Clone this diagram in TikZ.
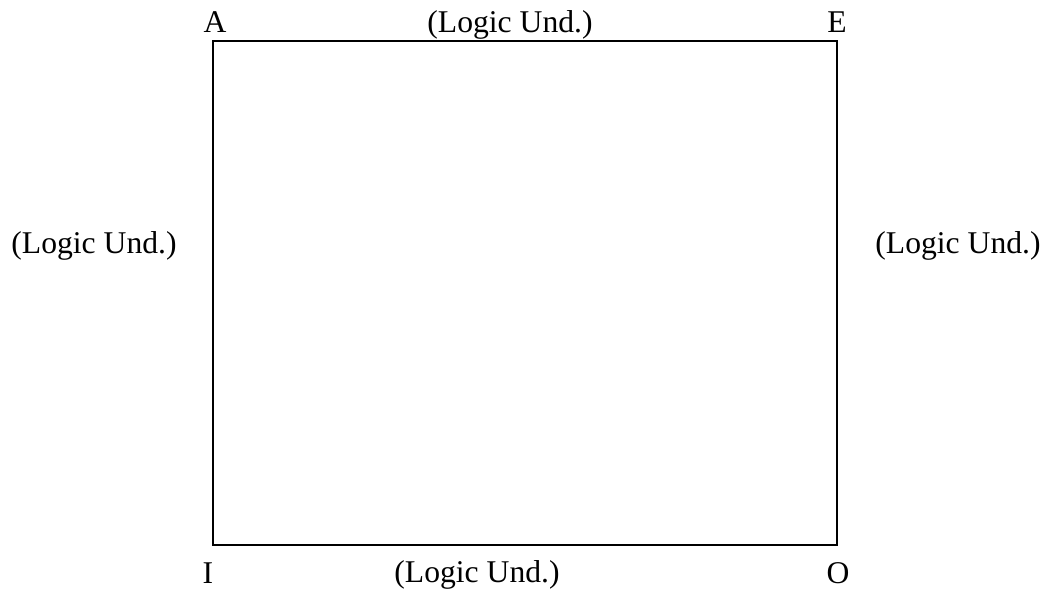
\documentclass[tikz,border=0pt]{standalone}
\usepackage{fontspec}
\setmainfont{Liberation Serif}
\usetikzlibrary{positioning}

\begin{document}
\begin{tikzpicture}[
corner/.style={inner sep=0pt, font=\fontsize{18}{21.6}\selectfont},
side/.style={inner sep=0pt, font=\fontsize{18}{21.6}\selectfont},
frame/.style={draw, line width=1.2pt}
]
\useasboundingbox (0,0) rectangle (20.98,11.88);

\coordinate (tl) at (4.26,11.06);
\coordinate (tr) at (16.74,11.06);
\coordinate (bl) at (4.26,0.98);
\coordinate (br) at (16.74,0.98);

\draw[frame] (tl) -- (tr) -- (br) -- (bl) -- cycle;

\node[corner] (a) at (4.30,11.44) {A};
\node[corner] (e) at (16.74,11.44) {E};
\node[corner] (i) at (4.16,0.42) {I};
\node[corner] (o) at (16.76,0.42) {O};

\node[side] (top) at (10.20,11.39) {(Logic Und.)};
\node[side] (bottom) at (9.54,0.38) {(Logic Und.)};
\node[side] (left) at (1.88,6.97) {(Logic Und.)};
\node[side] (right) at (19.16,6.97) {(Logic Und.)};
\end{tikzpicture}
\end{document}
